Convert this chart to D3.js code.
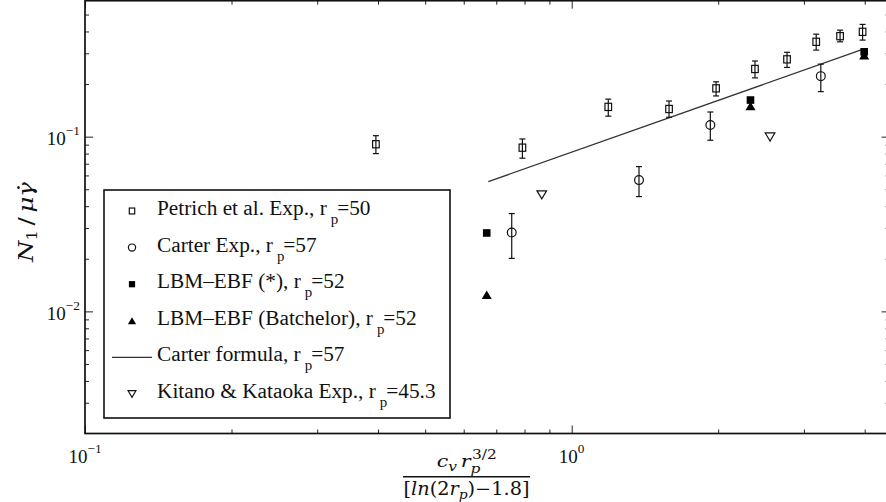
<!DOCTYPE html>
<html>
<head>
<meta charset="utf-8">
<script src="https://cdn.jsdelivr.net/npm/d3@7"></script>
<style>
  body { margin: 0; background: #fff; }
  svg { display: block; }
  svg text { font-family: "Liberation Serif", "Times New Roman", "DejaVu Serif", serif; }
</style>
</head>
<body>
<svg id="chart" width="886" height="502"></svg>
<script>
// ---- data ---------------------------------------------------------------
// Petrich et al. experiments (r_p = 50), with error bars
const petrichX  = [0.396, 0.792, 1.189, 1.585, 1.98, 2.38, 2.77, 3.18, 3.56, 3.96];
const petrichY  = [0.0905, 0.0865, 0.148, 0.144, 0.189, 0.244, 0.277, 0.349, 0.376, 0.398];
const petrichLo = [0.080, 0.0753, 0.131, 0.129, 0.171, 0.217, 0.249, 0.313, 0.349, 0.357];
const petrichHi = [0.1013, 0.097, 0.164, 0.160, 0.206, 0.271, 0.304, 0.386, 0.407, 0.439];

// Carter experiments (r_p = 57), with error bars
const carterX  = [0.753, 1.375, 1.927, 3.25];
const carterY  = [0.0283, 0.0564, 0.1167, 0.222];
const carterLo = [0.0201, 0.0454, 0.0954, 0.181];
const carterHi = [0.0363, 0.0674, 0.1384, 0.260];

// LBM-EBF simulations (r_p = 52)
const lbmX      = [0.669, 2.33, 3.99];
const lbmStarY  = [0.0281, 0.162, 0.306];
const lbmBatchY = [0.01245, 0.1497, 0.293];

// Carter formula (r_p = 57)
const formulaX = [0.674, 3.96];
const formulaY = [0.0553, 0.316];

// Kitano & Kataoka experiments (r_p = 45.3)
const kitanoX = [0.868, 2.556];
const kitanoY = [0.0464, 0.0996];

// axes
const xDomain = [0.1, 4.5];
const yDomain = [0.002, 0.6];
const xMajor = [0.1, 1];
const xMinor = [0.2, 0.3, 0.4, 0.5, 0.6, 0.7, 0.8, 0.9, 2, 3, 4];
const yMajor = [0.01, 0.1];
const yMinor = [0.003, 0.004, 0.005, 0.006, 0.007, 0.008, 0.009,
                0.02, 0.03, 0.04, 0.05, 0.06, 0.07, 0.08, 0.09,
                0.2, 0.3, 0.4, 0.5];
const xTickExp = ["\u22121", "0"];
const yTickExp = ["\u22122", "\u22121"];

// legend
const legendText = ["Petrich et al. Exp., r", "Carter Exp., r", "LBM\u2013EBF (*), r",
                    "LBM\u2013EBF (Batchelor), r", "Carter formula, r", "Kitano & Kataoka Exp., r"];
const legendRp   = ["=50", "=57", "=52", "=52", "=57", "=45.3"];
const legendKind = ["openSquare", "openCircle", "filledSquare", "filledTriangle", "line", "openTriangleDown"];

// ---- layout -------------------------------------------------------------
const FONT = "'Liberation Serif', 'Times New Roman', 'DejaVu Serif', serif";
const MATH = "'DejaVu Serif', 'Liberation Serif', serif";
const svg = d3.select("#chart");
const L = 85, R = 889.6, T = 0.7, B = 433.5;
const ink = "#111";

const x = d3.scaleLog().domain(xDomain).range([L, R]);
const y = d3.scaleLog().domain(yDomain).range([B, T]);

function txt(g, family) {
  return g.append("text").style("font-family", family || FONT).attr("fill", ink);
}
// font size at which a string spans the wanted width
function fitSize(str, width) {
  const probe = txt(svg).style("font-size", "100px").text(str);
  const w = probe.node().getComputedTextLength();
  probe.remove();
  return 100 * width / w;
}

// ticks (pointing inward on all four sides)
function ticks(axisFn, transform, values, len) {
  const g = svg.append("g").attr("transform", transform)
    .call(axisFn.tickValues(values).tickSize(-len).tickSizeOuter(0).tickFormat(""));
  g.select(".domain").remove();
  g.selectAll(".tick line").attr("stroke", "#222").attr("stroke-width", 1);
}
ticks(d3.axisBottom(x), `translate(0,${B})`, xMajor, 8);
ticks(d3.axisBottom(x), `translate(0,${B})`, xMinor, 4);
ticks(d3.axisTop(x), `translate(0,${T})`, xMajor, 8);
ticks(d3.axisTop(x), `translate(0,${T})`, xMinor, 4);
ticks(d3.axisLeft(y), `translate(${L},0)`, yMajor, 8);
ticks(d3.axisLeft(y), `translate(${L},0)`, yMinor, 4);
ticks(d3.axisRight(y), `translate(${R},0)`, yMajor, 8);
ticks(d3.axisRight(y), `translate(${R},0)`, yMinor, 4);

// frame
svg.append("rect").attr("x", L).attr("y", T).attr("width", R - L).attr("height", B - T)
  .attr("fill", "none").attr("stroke", ink).attr("stroke-width", 1.7);

// tick labels: 10 with superscript exponent
const tickFs = fitSize("10", 19);
xMajor.forEach((v, i) => {
  const t = txt(svg).attr("x", x(v)).attr("y", B + 29.5)
    .attr("text-anchor", "middle").style("font-size", tickFs + "px");
  t.append("tspan").text("10");
  t.append("tspan").attr("dy", -10).style("font-size", (tickFs * 0.7) + "px").text(xTickExp[i]);
});
yMajor.forEach((v, i) => {
  const t = txt(svg).attr("x", L - 5).attr("y", y(v) + 8.5)
    .attr("text-anchor", "end").style("font-size", tickFs + "px");
  t.append("tspan").text("10");
  t.append("tspan").attr("dy", -10).style("font-size", (tickFs * 0.7) + "px").text(yTickExp[i]);
});

// helper: lay out a row of math-style text pieces, centred on cx and
// stretched horizontally so the row spans the given width
function pieces(parent, list, cx, baseline, width) {
  const g = parent.append("g");
  const items = [];
  let cur = 0, maxAdv = 0;
  list.forEach(p => {
    cur += p.dx || 0;
    const t = txt(g, MATH).attr("y", p.dy || 0)
      .style("font-size", p.size + "px")
      .style("font-style", p.italic ? "italic" : "normal")
      .text(p.t);
    const w = t.node().getComputedTextLength();
    items.push({ t, x: cur, w });
    if (p.stack) { maxAdv = Math.max(maxAdv, w); }
    else { cur += Math.max(w, maxAdv); maxAdv = 0; }
  });
  items.forEach(it => it.t.attr("x", it.x - cur / 2));
  const k = width ? width / cur : 1;
  g.attr("transform", `translate(${cx},${baseline}) scale(${k},1)`);
  return { g, k, items: items.map(it => ({ x: it.x - cur / 2, w: it.w })) };
}

// x-axis label: fraction
const xl = svg.append("g");
pieces(xl, [
  { t: "c", size: 16, italic: true },
  { t: "v", size: 12, italic: true, dy: 4 },
  { t: "r", size: 16, italic: true, dx: 3 },
  { t: "p", size: 12, italic: true, dy: 6, stack: true },
  { t: "3/2", size: 12, dy: -8, dx: 1 }
], 466.7, 466.5, 60);
xl.append("line").attr("x1", 403).attr("x2", 530).attr("y1", 476.7).attr("y2", 476.7)
  .attr("stroke", ink).attr("stroke-width", 1.6);
pieces(xl, [
  { t: "[", size: 18 },
  { t: "ln", size: 18, italic: true },
  { t: "(2", size: 18 },
  { t: "r", size: 18, italic: true },
  { t: "p", size: 13, italic: true, dy: 4 },
  { t: ")\u22121.8]", size: 18 }
], 466.5, 494.5, 126);

// y-axis label
const yl = svg.append("g").attr("transform", "translate(33,222) rotate(-90)");
const yp = pieces(yl, [
  { t: "N", size: 21, italic: true },
  { t: "1", size: 14, dy: 4 },
  { t: "/", size: 21, dx: 4 },
  { t: "\u03bc", size: 21, italic: true, dx: 4 },
  { t: "\u03b3", size: 21, italic: true }
], 0, 0, 80);
const gam = yp.items[yp.items.length - 1];
yp.g.append("circle").attr("cx", gam.x + gam.w * 0.62).attr("cy", -14.5).attr("r", 1.3).attr("fill", ink);

// ---- marks --------------------------------------------------------------
const plot = svg.append("g");

// Carter formula line
plot.append("path")
  .datum(formulaX.map((v, i) => [v, formulaY[i]]))
  .attr("d", d3.line().x(d => x(d[0])).y(d => y(d[1])))
  .attr("fill", "none").attr("stroke", "#333").attr("stroke-width", 1.3);

// error bars
function errorBars(xs, lo, hi) {
  const g = plot.append("g").attr("stroke", ink).attr("stroke-width", 1.2);
  xs.forEach((v, i) => {
    const cx = x(v);
    g.append("line").attr("x1", cx).attr("x2", cx).attr("y1", y(lo[i])).attr("y2", y(hi[i]));
    g.append("line").attr("x1", cx - 3).attr("x2", cx + 3).attr("y1", y(lo[i])).attr("y2", y(lo[i]));
    g.append("line").attr("x1", cx - 3).attr("x2", cx + 3).attr("y1", y(hi[i])).attr("y2", y(hi[i]));
  });
}
errorBars(petrichX, petrichLo, petrichHi);
errorBars(carterX, carterLo, carterHi);

// marker shapes
function marker(g, kind, cx, cy, s) {
  switch (kind) {
    case "openSquare":
      return g.append("rect").attr("x", cx - 3.3 * s).attr("y", cy - 3.6 * s)
        .attr("width", 6.6 * s).attr("height", 7.2 * s)
        .attr("fill", "none").attr("stroke", ink).attr("stroke-width", 1.2);
    case "openCircle":
      return g.append("circle").attr("cx", cx).attr("cy", cy).attr("r", 4.4 * s)
        .attr("fill", "none").attr("stroke", ink).attr("stroke-width", 1.2);
    case "filledSquare":
      return g.append("rect").attr("x", cx - 3.8 * s).attr("y", cy - 3.8 * s)
        .attr("width", 7.6 * s).attr("height", 7.6 * s).attr("fill", "#000");
    case "filledTriangle":
      return g.append("path")
        .attr("d", `M${cx},${cy - 4.3 * s}L${cx + 5 * s},${cy + 4.3 * s}L${cx - 5 * s},${cy + 4.3 * s}Z`)
        .attr("fill", "#000");
    case "openTriangleDown":
      return g.append("path")
        .attr("d", `M${cx - 4.8 * s},${cy - 4 * s}L${cx + 4.8 * s},${cy - 4 * s}L${cx},${cy + 4 * s}Z`)
        .attr("fill", "none").attr("stroke", ink).attr("stroke-width", 1.2);
    case "line":
      return g.append("line").attr("x1", cx - 20).attr("x2", cx + 20).attr("y1", cy).attr("y2", cy)
        .attr("stroke", "#333").attr("stroke-width", 1.3);
  }
}

petrichX.forEach((v, i) => marker(plot, "openSquare", x(v), y(petrichY[i]), 1));
carterX.forEach((v, i) => marker(plot, "openCircle", x(v), y(carterY[i]), 1));
lbmX.forEach((v, i) => marker(plot, "filledSquare", x(v), y(lbmStarY[i]), 1));
lbmX.forEach((v, i) => marker(plot, "filledTriangle", x(v), y(lbmBatchY[i]), 1));
kitanoX.forEach((v, i) => marker(plot, "openTriangleDown", x(v), y(kitanoY[i]), 1));

// ---- legend -------------------------------------------------------------
const lg = svg.append("g");
lg.append("rect").attr("x", 104).attr("y", 190).attr("width", 346).attr("height", 228)
  .attr("fill", "#fff").attr("stroke", ink).attr("stroke-width", 1.6);
const legFs = fitSize(legendText[3], 216);
const subFs = legFs * 0.7;
legendText.forEach((label, i) => {
  const ry = 211 + i * 36.6;
  marker(lg, legendKind[i], 132, ry, legendKind[i] === "line" ? 1 : 0.82);
  const t = txt(lg).attr("x", 157).attr("y", ry + 4).style("font-size", legFs + "px");
  t.append("tspan").text(label);
  t.append("tspan").attr("dy", 9).attr("dx", 4).style("font-size", subFs + "px").text("p");
  t.append("tspan").attr("dy", -9).attr("dx", -1).text(legendRp[i]);
});
</script>
</body>
</html>
